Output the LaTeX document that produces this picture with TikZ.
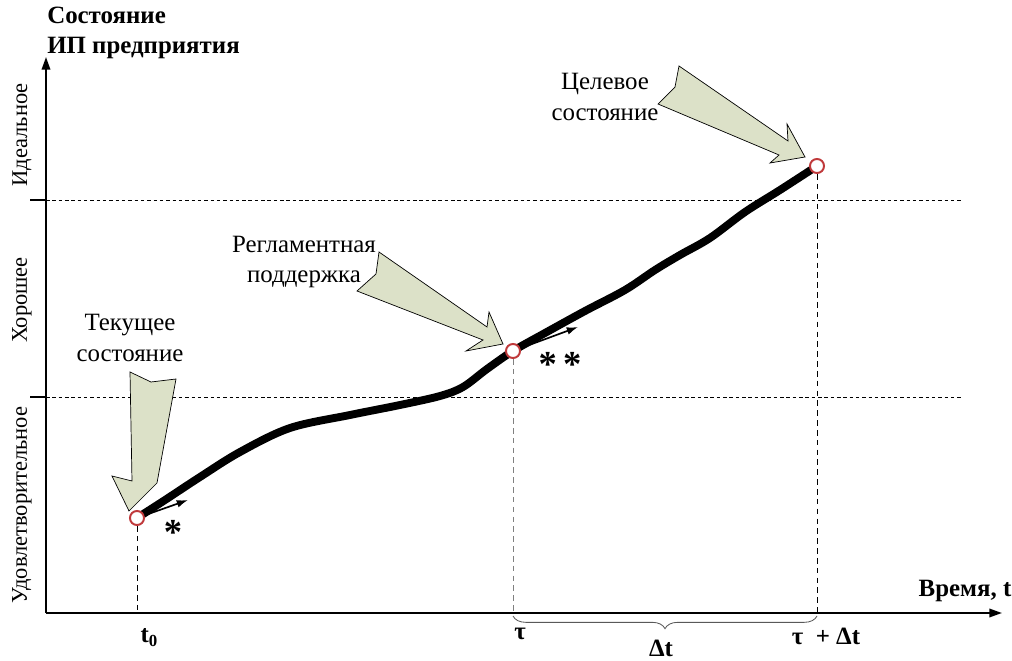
\documentclass[tikz,border=0pt]{standalone}
\usepackage{fontspec}
\setmainfont{Liberation Serif}
\usepackage{xcolor}
\usepackage{tikz}
\usetikzlibrary{arrows.meta}
\usetikzlibrary{positioning}
\usetikzlibrary{decorations.pathreplacing}
\definecolor{calloutfill}{HTML}{DCE1C8}
\definecolor{ptred}{HTML}{C0393B}

\begin{document}
\begin{tikzpicture}[
  x=0.025cm, y=-0.025cm,
  every node/.style={font=\fontsize{17.7}{21.5}\selectfont, align=center, inner sep=0pt},
  axis/.style={line width=1.4pt, -{Triangle[length=9pt,width=6pt]}},
  grid line/.style={line width=0.6pt, dash pattern=on 2.5pt off 2pt},
  drop line/.style={line width=0.7pt, dash pattern=on 4pt off 3pt},
  state/.style={circle, draw=ptred, fill=white, line width=1.4pt, minimum size=10pt},
  callout/.style={draw, fill=calloutfill, line width=0.5pt, line join=miter},
  path line/.style={line width=5.6pt, line join=round},
  trend/.style={line width=1.2pt, -{Latex[length=8pt,width=5.5pt]}},
  ylbl/.style={rotate=90, font=\fontsize{16}{20}\selectfont},
  bold lbl/.style={font=\fontsize{17.7}{21.5}\selectfont\bfseries},
  star/.style={font=\fontsize{26}{26}\selectfont\bfseries}
]
\useasboundingbox (0,0) rectangle (1012,661);

% axes
\coordinate (O) at (46,613);
\coordinate (ytop) at (46,57);
\coordinate (xend) at (1002,613);
\draw[axis] (O) -- (ytop);
\draw[axis] (O) -- (xend);

% levels
\coordinate (lv1) at (30,397);
\coordinate (lv2) at (30,200);
\draw[line width=1.2pt] (lv1) -- (O |- lv1);
\draw[line width=1.2pt] (lv2) -- (O |- lv2);
\draw[grid line] (O |- lv1) -- (963,397);
\draw[grid line] (O |- lv2) -- (963,200);

\node[ylbl] (ideal) at (22,135) {Идеальное};
\node[ylbl] (good) at (22,300) {Хорошее};
\node[ylbl] (fair) at (22,505) {Удовлетворительное};

\node[bold lbl, align=left, anchor=north west] (ytitle) at (47,7) {Состояние\\ИП предприятия};
\node[bold lbl] (xtitle) at (965,591) {Время, t};

% trajectory
\coordinate (c0) at (137,518);
\coordinate (c1) at (513,351);
\coordinate (c2) at (817,166);
\draw[path line] plot[smooth, tension=0.55] coordinates {
  (c0) (165,500) (200,477) (240,452) (290,428) (350,415) (400,405)
  (440,396) (463,387) (487,369) (c1) (545,333) (585,311) (625,290)
  (655,270) (680,255) (710,238) (745,212) (780,190) (c2)};

% callouts
\draw[callout] (130,372) -- (151,382) -- (176,379) -- (157,483)
  -- (129,511) -- (112,476) -- (132,481) -- cycle;
\draw[callout] (379,252) -- (487,327) -- (489,312) -- (503,344)
  -- (466,351) -- (483,340) -- (357,291) -- (376,274) -- cycle;
\draw[callout] (679,66) -- (788,141) -- (787,124) -- (805,157)
  -- (770,163) -- (779,155) -- (658,104) -- (675,87) -- cycle;

\node (cur) at (130,338) {Текущее\\состояние};
\node (reg) at (304,262) {Регламентная\\поддержка};
\node (goal) at (605,97) {Целевое\\состояние};

% states
\node[state] (p0) at (c0) {};
\node[state] (p1) at (c1) {};
\node[state] (p2) at (c2) {};

\coordinate (d0) at (188,500);
\coordinate (d1) at (578,327);
\draw[trend] (p0) -- (d0);
\draw[trend] (p1) -- (d1);
\node[star] (s0) at (173,532) {*};
\node[star] (s1) at (560,364) {*\,*};

% time marks
\draw[drop line] (p0.south) -- (p0 |- O);
\draw[drop line, gray] (p1.south) -- (p1 |- O);
\draw[drop line] (p2.south) -- (p2 |- O);
\draw[gray!70!black, line width=0.6pt, decorate,
  decoration={brace, mirror, amplitude=9pt}] (513,616) -- (817,616);

\node[bold lbl] (t0) at (149,638) {t\raisebox{-0.35ex}{\fontsize{12}{12}\selectfont 0}};
\node[bold lbl] (tau) at (520,634) {τ};
\node[bold lbl] (dt) at (661,648) {Δt};
\node[bold lbl] (taudt) at (826,636) {τ \ + Δt};
\end{tikzpicture}
\end{document}
